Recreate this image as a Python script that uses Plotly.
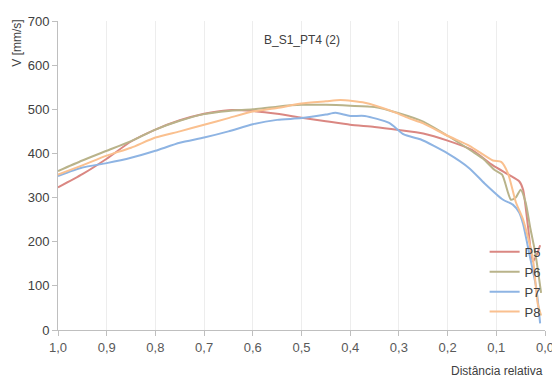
import plotly.graph_objects as go

# ── Data ───────────────────────────────────────────────────────────────────────
P5_X = [1.0, 0.95, 0.9, 0.85, 0.8, 0.75, 0.7, 0.65, 0.6, 0.55, 0.5, 0.45, 0.4, 0.35,
        0.3, 0.25, 0.2, 0.15, 0.107, 0.073, 0.053, 0.045, 0.035, 0.025, 0.018, 0.01]
P5_V = [323, 353, 388, 427, 454, 475, 490, 498, 496, 490, 481, 473, 465, 460,
        453, 445, 429, 408, 373, 351, 337, 318, 235, 155, 168, 192]

P6_X = [1.0, 0.95, 0.9, 0.85, 0.8, 0.75, 0.7, 0.65, 0.6, 0.55, 0.5, 0.45, 0.4, 0.35,
        0.3, 0.25, 0.2, 0.15, 0.127, 0.104, 0.088, 0.07, 0.06, 0.05, 0.04, 0.03, 0.02, 0.008]
P6_V = [360, 384, 406, 428, 454, 474, 489, 496, 500, 506, 510, 510, 508, 505,
        491, 472, 440, 405, 388, 363, 352, 295, 300, 318, 290, 230, 175, 84]

P7_X = [1.0, 0.95, 0.9, 0.85, 0.8, 0.75, 0.7, 0.65, 0.6, 0.55, 0.5, 0.45, 0.43, 0.4,
        0.37, 0.32, 0.29, 0.256, 0.2, 0.155, 0.124, 0.086, 0.066, 0.053, 0.045, 0.033,
        0.018, 0.01]
P7_V = [349, 368, 378, 390, 406, 424, 436, 450, 466, 476, 480, 488, 492, 485,
        485, 469, 443, 432, 400, 366, 332, 295, 284, 266, 240, 177,
        96, 15]

P8_X = [1.0, 0.95, 0.9, 0.85, 0.8, 0.75, 0.7, 0.65, 0.6, 0.55, 0.5, 0.45, 0.42, 0.37,
        0.32, 0.28, 0.25, 0.2, 0.155, 0.107, 0.09, 0.076, 0.06, 0.045, 0.025, 0.015, 0.008]
P8_V = [352, 373, 395, 413, 436, 450, 465, 480, 495, 503, 513, 518, 521, 515,
        498, 480, 468, 440, 417, 384, 381, 355, 290, 250, 162, 60, 33]

SERIES = [
    ("P5", P5_X, P5_V, "#DA8782"),
    ("P6", P6_X, P6_V, "#B9B38A"),
    ("P7", P7_X, P7_V, "#8EB4E3"),
    ("P8", P8_X, P8_V, "#FAC08F"),
]

TICK_X = [1.0, 0.9, 0.8, 0.7, 0.6, 0.5, 0.4, 0.3, 0.2, 0.1, 0.0]
TICK_Y = [0, 100, 200, 300, 400, 500, 600, 700]

# ── Style ──────────────────────────────────────────────────────────────────────
FONT = "Liberation Sans, Arial, sans-serif"
TXT = "#404040"
AXIS_CLR = "#BFBFBF"
GRID_CLR = "#EDEDED"

fig = go.Figure()
for name, xs, vs, color in SERIES:
    fig.add_trace(go.Scatter(
        x=xs, y=vs, name=name, mode="lines",
        line=dict(color=color, width=2, shape="spline", smoothing=0.6),
    ))

# page body has an 8px margin, so the figure is shrunk to fit the window
fig.update_layout(
    width=552, height=375,
    paper_bgcolor="white", plot_bgcolor="white",
    margin=dict(l=50, r=11, t=6, b=53),
    separators=",.",
    font=dict(family=FONT, size=13, color=TXT),
    showlegend=True,
    legend=dict(
        x=0.876, y=0.01, xanchor="left", yanchor="bottom",
        bgcolor="rgba(0,0,0,0)", itemwidth=30, tracegroupgap=0,
        font=dict(size=13, color=TXT),
    ),
    xaxis=dict(
        range=[1.0, 0.0], tickvals=TICK_X, tickformat=".1f",
        showgrid=True, gridcolor=GRID_CLR, gridwidth=1,
        showline=True, linecolor=AXIS_CLR, linewidth=1,
        ticks="outside", ticklen=5, tickcolor=AXIS_CLR,
        zeroline=False, tickfont=dict(size=13, color="#595959"),
        ticklabeloverflow="allow",
    ),
    yaxis=dict(
        range=[0, 700], tickvals=TICK_Y,
        showgrid=False,
        showline=True, linecolor=AXIS_CLR, linewidth=1,
        ticks="outside", ticklen=5, tickcolor=AXIS_CLR,
        zeroline=False, tickfont=dict(size=13, color=TXT),
        ticklabeloverflow="allow",
    ),
    annotations=[
        dict(text="B_S1_PT4 (2)", xref="paper", yref="paper", x=0.5, y=0.94,
             xanchor="center", yanchor="middle", showarrow=False,
             font=dict(size=12, color=TXT)),
        dict(text="V [mm/s]", xref="paper", yref="paper", x=-0.086, y=0.927,
             xanchor="center", yanchor="middle", textangle=-90, showarrow=False,
             font=dict(size=12, color=TXT)),
        dict(text="Distância relativa", xref="paper", yref="paper", x=1.0, y=-0.105,
             xanchor="right", yanchor="top", showarrow=False,
             font=dict(size=12, color=TXT)),
    ],
)

fig.write_html("out.html")
